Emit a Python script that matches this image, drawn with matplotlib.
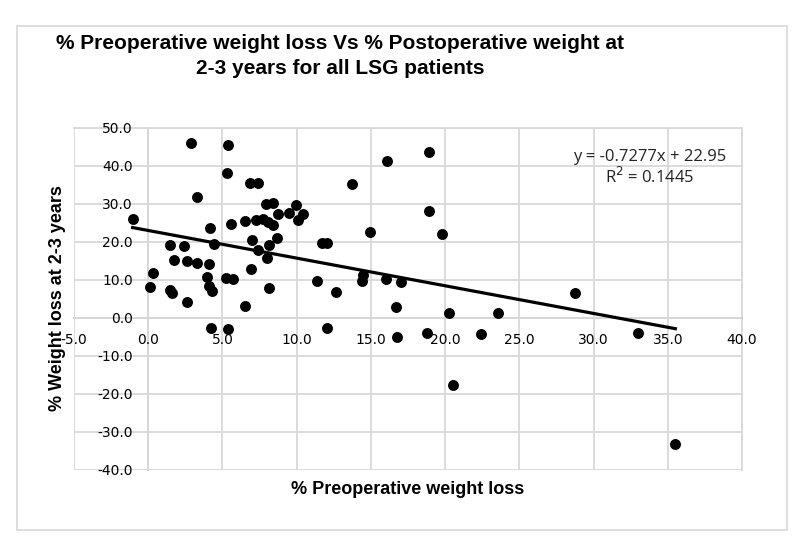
import numpy as np
import matplotlib
matplotlib.use('Agg')
import matplotlib.pyplot as plt
from matplotlib.patches import Rectangle

# % preoperative weight loss (x) and % weight loss at 2-3 years (y)
pre_loss = [-1.05, 2.88, 5.39, 5.28, 6.85, 7.41, 3.26, 7.93, 8.42, 8.71,
            9.50, 9.93, 10.44, 10.10, 6.51, 7.25, 7.70, 8.08, 8.42, 5.57,
            4.15, 8.65, 6.96, 1.46, 2.40, 4.45, 8.15, 7.41, 1.75, 2.63,
            3.30, 4.11, 8.01, 6.90, 0.30, 3.93, 5.23, 5.72, 0.11, 4.11,
            4.27, 1.46, 1.58, 8.15, 2.59, 6.51, 11.34, 11.74, 12.01, 4.22,
            5.35, 12.05, 12.64, 13.70, 16.10, 18.92, 18.92, 14.97, 19.78, 14.44,
            14.37, 16.01, 17.06, 16.72, 20.23, 23.57, 16.77, 18.79, 22.45, 28.73,
            33.0, 35.51, 20.55]
post_loss = [25.9, 45.9, 45.4, 38.0, 35.4, 35.5, 31.7, 29.9, 30.3, 27.3,
             27.6, 29.7, 27.2, 25.7, 25.4, 25.7, 25.9, 25.3, 24.4, 24.7,
             23.7, 20.9, 20.4, 19.1, 18.9, 19.4, 19.1, 17.8, 15.2, 15.0,
             14.3, 14.0, 15.6, 12.7, 11.7, 10.8, 10.5, 10.1, 8.2, 8.3,
             6.9, 7.3, 6.4, 7.9, 4.0, 3.2, 9.7, 19.6, 19.6, -2.6,
             -3.0, -2.6, 6.8, 35.1, 41.3, 43.5, 28.1, 22.5, 21.9, 11.2,
             9.7, 10.1, 9.5, 2.7, 1.2, 1.3, -5.0, -4.1, -4.3, 6.4,
             -3.9, -33.2, -17.7]

slope = -0.7277
intercept = 22.95
x_ticks = [-5, 0, 5, 10, 15, 20, 25, 30, 35, 40]
y_ticks = [-40, -30, -20, -10, 0, 10, 20, 30, 40, 50]

tick_font = ['Open Sans', 'DejaVu Sans']
bold_font = ['Liberation Sans', 'DejaVu Sans']
grid_col = '#d9d9d9'

fig = plt.figure(figsize=(8, 5.41), dpi=100)
ax = fig.add_axes([0.0925, 0.1318, 0.835, 0.6322])

ax.scatter(pre_loss, post_loss, s=62, color='black', zorder=3, linewidths=0)

xs = np.array([min(pre_loss), max(pre_loss)])
ax.plot(xs, slope * xs + intercept, color='black', lw=2.3, zorder=4)

ax.set_xlim(-5, 40)
ax.set_ylim(-40, 50)
ax.set_xticks(x_ticks)
ax.set_yticks(y_ticks)
ax.set_xticklabels(['%.1f' % v for v in x_ticks], family=tick_font, fontsize=12, color='#404040')
ax.set_yticklabels(['%.1f' % v for v in y_ticks], family=tick_font, fontsize=12, color='#404040')
ax.tick_params(axis='x', length=0, pad=11)
ax.tick_params(axis='y', length=0, pad=11)
ax.grid(True, color=grid_col, lw=1.3, zorder=0)
ax.set_axisbelow(True)

# axes cross at zero like the Excel chart
ax.spines['left'].set_position(('data', 0))
ax.spines['bottom'].set_position(('data', 0))
for side in ['left', 'bottom']:
    ax.spines[side].set_color('#bfbfbf')
    ax.spines[side].set_linewidth(1.3)
    ax.spines[side].set_zorder(0.3)
for side in ['top', 'right']:
    ax.spines[side].set_color(grid_col)
    ax.spines[side].set_linewidth(1.3)
    ax.spines[side].set_zorder(0.3)

ax.text(0.862, 0.882, 'y = -0.7277x + 22.95\nR$^2$ = 0.1445', transform=ax.transAxes,
        ha='center', va='center', fontsize=12, family=tick_font, linespacing=1.1,
        color='#222222')

fig.text(340 / 800, 1 - 56 / 541, '% Preoperative weight loss Vs % Postoperative weight at\n2-3 years for all LSG patients',
         ha='center', va='center', fontsize=15, fontweight='bold', family=bold_font, linespacing=1.35)
fig.text(408 / 800, 1 - 490 / 541, '% Preoperative weight loss', ha='center', va='center',
         fontsize=13, fontweight='bold', family=bold_font)
fig.text(58 / 800, 1 - 298 / 541, '% Weight loss at 2-3 years', ha='center', va='center',
         rotation=90, fontsize=13, fontweight='bold', family=bold_font)

fig.patches.append(Rectangle((17 / 800, 1 - 530 / 541), 770 / 800, 504 / 541,
                             transform=fig.transFigure, fill=False, edgecolor='#d9d9d9', lw=1.2))

fig.savefig('out.png', dpi=100)
